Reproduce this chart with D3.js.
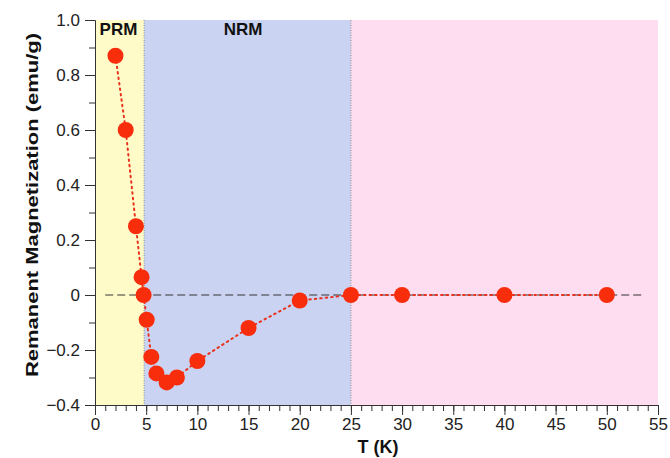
<!DOCTYPE html>
<html><head><meta charset="utf-8">
<script src="https://cdn.jsdelivr.net/npm/d3@7"></script>
<style>body{margin:0;background:#fff}svg{display:block}text{font-family:"Liberation Sans",Arial,sans-serif}</style>
</head><body><svg id="c" width="670" height="458"></svg>
<script>
const temps = [2, 3, 4, 4.55, 4.75, 5.05, 5.5, 6, 7, 8, 10, 15, 20, 25, 30, 40, 50];
const mags = [0.87, 0.60, 0.25, 0.065, 0.0, -0.09, -0.225, -0.285, -0.318, -0.30, -0.24, -0.12, -0.02, 0, 0, 0, 0];
const regionNames = ["PRM", "NRM", ""];
const regionStarts = [0, 4.8, 25];
const regionEnds = [4.8, 25, 55];
const regionColors = ["#fffbc9", "#cbd3f2", "#fdddef"];
const xTicks = [0, 5, 10, 15, 20, 25, 30, 35, 40, 45, 50, 55];
const yTicks = [-0.4, -0.2, 0, 0.2, 0.4, 0.6, 0.8, 1.0];
const yTickLabels = ["\u22120.4", "\u22120.2", "0", "0.2", "0.4", "0.6", "0.8", "1.0"];

const svg = d3.select("#c");
const x = d3.scaleLinear().domain([0, 55]).range([95, 658]);
const y = d3.scaleLinear().domain([-0.4, 1.0]).range([405, 20]);

svg.selectAll("rect.reg").data(regionStarts).enter().append("rect")
  .attr("x", (d) => x(d)).attr("y", y(1.0))
  .attr("width", (d, i) => x(regionEnds[i]) - x(d))
  .attr("height", y(-0.4) - y(1.0))
  .attr("fill", (d, i) => regionColors[i]);
svg.selectAll("line.bd").data([4.8, 25]).enter().append("line")
  .attr("x1", d => x(d)).attr("x2", d => x(d)).attr("y1", y(1.0)).attr("y2", y(-0.4))
  .attr("stroke", "#888").attr("stroke-width", 1).attr("stroke-dasharray", "1,1.5");
svg.selectAll("text.rl").data(regionNames).enter().append("text")
  .attr("x", (d, i) => i === 0 ? 118.5 : 243).attr("y", 35)
  .attr("text-anchor", "middle").attr("font-weight", "bold").attr("font-size", 17)
  .attr("fill", "#111").text(d => d);

svg.append("line").attr("x1", x(1)).attr("x2", x(53.7)).attr("y1", y(0)).attr("y2", y(0))
  .attr("stroke", "#333").attr("stroke-width", 1).attr("stroke-dasharray", "8,4");

const xAxis = svg.append("g").attr("transform", `translate(0,${y(-0.4)})`)
  .call(d3.axisBottom(x).tickValues(xTicks).tickSize(10).tickSizeOuter(0).tickFormat(d3.format("d")));
const xMinor = svg.append("g").attr("transform", `translate(0,${y(-0.4)})`)
  .call(d3.axisBottom(x).tickValues(d3.range(0, 56, 1)).tickSize(6).tickSizeOuter(0).tickFormat(""));
const yAxis = svg.append("g").attr("transform", `translate(${x(0)},0)`)
  .call(d3.axisLeft(y).tickValues(yTicks).tickSize(10).tickSizeOuter(0).tickFormat((d, i) => yTickLabels[i]));
const yMinor = svg.append("g").attr("transform", `translate(${x(0)},0)`)
  .call(d3.axisLeft(y).tickValues(d3.range(-0.4, 1.01, 0.1)).tickSize(6).tickSizeOuter(0).tickFormat(""));
[xAxis, xMinor, yAxis, yMinor].forEach(g => {
  g.selectAll("path,line").attr("stroke", "#333").attr("stroke-width", 1);
  g.selectAll("text").attr("font-size", 17).attr("fill", "#222")
    .attr("font-family", "'Liberation Sans',Arial,sans-serif");
});
xAxis.selectAll("text").attr("dy", "0.85em").attr("y", 11);
yAxis.selectAll("text").attr("x", -15);

const pts = temps.map((t, i) => [t, mags[i]]);
svg.append("path").datum(pts)
  .attr("d", d3.line().x(d => x(d[0])).y(d => y(d[1])))
  .attr("fill", "none").attr("stroke", "#e8321e").attr("stroke-width", 2)
  .attr("stroke-dasharray", "1.5,4").attr("stroke-linecap", "round");
svg.selectAll("circle.p").data(pts).enter().append("circle")
  .attr("cx", d => x(d[0])).attr("cy", d => y(d[1])).attr("r", 8)
  .attr("fill", "#f72d0c");

svg.append("text").attr("x", 378).attr("y", 453).attr("text-anchor", "middle")
  .attr("font-weight", "bold").attr("font-size", 18).attr("fill", "#111").text("T (K)");
svg.append("text").attr("transform", "translate(38,205) rotate(-90)").attr("text-anchor", "middle")
  .attr("font-weight", "bold").attr("font-size", 17).attr("fill", "#111")
  .attr("textLength", 344).attr("lengthAdjust", "spacingAndGlyphs")
  .text("Remanent Magnetization (emu/g)");
</script></body></html>
